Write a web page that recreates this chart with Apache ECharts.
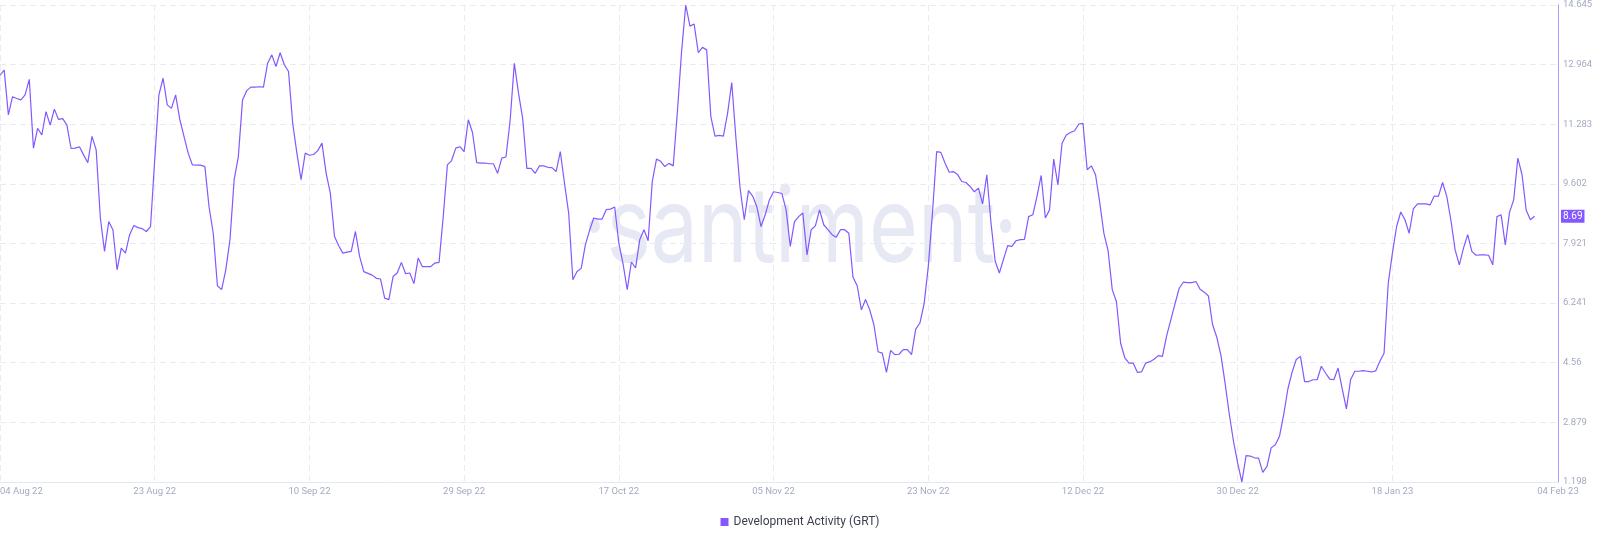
<!DOCTYPE html>
<html>
<head>
<meta charset="utf-8">
<script src="https://cdn.jsdelivr.net/npm/echarts@6/dist/echarts.min.js"></script>
<style>
  html, body { margin: 0; padding: 0; background: #ffffff; }
  #chart { width: 1600px; height: 541px; }
</style>
</head>
<body>
<div id="chart"></div>
<script>
// ---- data (12-hour samples starting 04 Aug 2022) ----
const seriesName = 'Development Activity (GRT)';
const startTime = Date.UTC(2022, 7, 4, 0, 0, 0);
const stepHours = 12;

const devActivity = [
  12.67, 12.81, 11.55, 12.06, 12.01, 11.97, 12.11, 12.55, 10.61, 11.17,
  10.98, 11.64, 11.26, 11.71, 11.42, 11.44, 11.26, 10.60, 10.61, 10.65,
  10.42, 10.20, 10.94, 10.56, 8.64, 7.70, 8.54, 8.31, 7.18, 7.79,
  7.65, 8.17, 8.43, 8.37, 8.34, 8.26, 8.40, 10.28, 12.11, 12.58,
  11.83, 11.73, 12.11, 11.42, 10.94, 10.47, 10.14, 10.13, 10.13, 10.09,
  8.95, 8.21, 6.73, 6.62, 7.18, 8.03, 9.72, 10.37, 11.97, 12.23,
  12.33, 12.33, 12.34, 12.33, 13.00, 13.24, 12.91, 13.30, 12.96, 12.77,
  11.31, 10.47, 9.72, 10.47, 10.41, 10.43, 10.54, 10.75, 9.90, 9.34,
  8.12, 7.86, 7.65, 7.68, 7.70, 8.26, 7.56, 7.13, 7.08, 7.03,
  6.94, 6.92, 6.38, 6.34, 6.99, 7.09, 7.39, 7.07, 7.09, 6.79,
  7.51, 7.27, 7.27, 7.27, 7.37, 7.39, 8.68, 10.14, 10.26, 10.61,
  10.65, 10.51, 11.41, 11.05, 10.20, 10.19, 10.19, 10.17, 10.17, 9.90,
  10.33, 10.36, 11.39, 13.00, 12.16, 11.45, 10.04, 10.04, 9.90, 10.11,
  10.11, 10.07, 10.06, 9.95, 10.51, 9.62, 8.78, 6.90, 7.13, 7.22,
  7.89, 8.29, 8.64, 8.61, 8.61, 8.88, 8.89, 8.95, 7.93, 7.35,
  6.62, 7.40, 7.23, 8.03, 8.31, 8.00, 9.67, 10.30, 10.24, 10.09,
  10.18, 10.11, 11.64, 13.33, 14.645, 14.05, 14.11, 13.30, 13.45, 13.38,
  11.50, 10.95, 10.97, 10.95, 11.59, 12.46, 10.89, 9.48, 8.59, 9.41,
  9.26, 8.96, 8.40, 8.73, 9.15, 9.38, 9.36, 9.33, 8.87, 7.84,
  8.54, 8.68, 8.78, 7.60, 8.31, 8.42, 8.87, 8.45, 8.31, 8.17,
  8.10, 8.31, 8.31, 8.21, 6.97, 6.73, 6.05, 6.34, 6.05, 5.63,
  4.87, 4.83, 4.29, 4.91, 4.79, 4.80, 4.93, 4.93, 4.79, 5.51,
  5.68, 6.22, 7.27, 8.78, 10.51, 10.49, 10.19, 9.93, 9.95, 9.87,
  9.67, 9.64, 9.53, 9.38, 9.48, 9.04, 9.86, 8.50, 7.42, 7.09,
  7.48, 7.86, 7.84, 8.00, 8.03, 8.04, 8.68, 8.73, 9.25, 9.84,
  8.64, 8.87, 10.30, 9.57, 10.75, 10.98, 11.05, 11.10, 11.29, 11.31,
  10.00, 10.11, 9.86, 9.08, 8.21, 7.72, 6.62, 6.28, 5.11, 4.70,
  4.55, 4.55, 4.29, 4.30, 4.55, 4.59, 4.66, 4.76, 4.74, 5.32,
  5.77, 6.22, 6.66, 6.83, 6.82, 6.82, 6.85, 6.63, 6.55, 6.44,
  5.63, 5.28, 4.76, 3.97, 3.10, 2.34, 1.73, 1.198, 1.94, 1.93,
  1.88, 1.87, 1.47, 1.64, 2.16, 2.25, 2.49, 3.10, 3.82, 4.29,
  4.65, 4.74, 4.03, 4.03, 4.08, 4.08, 4.46, 4.27, 4.10, 4.08,
  4.41, 3.82, 3.26, 4.08, 4.32, 4.32, 4.34, 4.32, 4.30, 4.33,
  4.60, 4.83, 6.80, 7.65, 8.40, 8.81, 8.59, 8.21, 8.90, 9.04,
  9.04, 9.04, 9.01, 9.26, 9.25, 9.64, 9.25, 8.57, 7.74, 7.32,
  7.79, 8.17, 7.70, 7.59, 7.60, 7.60, 7.59, 7.32, 8.68, 8.73,
  7.88, 8.80, 9.15, 10.33, 9.86, 8.86, 8.59, 8.69
];

const xTickLabels = ['04 Aug 22', '23 Aug 22', '10 Sep 22', '29 Sep 22', '17 Oct 22',
  '05 Nov 22', '23 Nov 22', '12 Dec 22', '30 Dec 22', '18 Jan 23', '04 Feb 23'];
const yTickLabels = [1.198, 2.879, 4.56, 6.241, 7.921, 9.602, 11.283, 12.964, 14.645];

// ---- derived structures ----
const HOUR = 3600 * 1000;
const stepMs = stepHours * HOUR;
const seriesData = devActivity.map((v, i) => [startTime + i * stepMs, v]);
const tickStepMs = 37 * stepMs;          // spacing between dated grid lines
const axisEnd = startTime + 372.6 * stepMs;
const xTickValues = xTickLabels.slice(0, -1).map((_, k) => startTime + k * tickStepMs);
xTickValues.push(axisEnd);
const lastValue = devActivity[devActivity.length - 1];

const purple = '#8358ff';
const labelColor = '#a3abc2';
const gridColor = '#e8eaf4';

const chart = echarts.init(document.getElementById('chart'), null, { renderer: 'canvas' });
chart.setOption({
  animation: false,
  backgroundColor: '#ffffff',
  textStyle: { fontFamily: 'Roboto, sans-serif' },
  grid: { left: 0, right: 42, top: 5, bottom: 59, containLabel: false, outerBoundsMode: 'none' },
  graphic: [{
    type: 'text',
    x: 800, y: 230,
    z: -10,
    scaleY: 1.25,
    style: {
      text: '\u00B7santiment\u00B7',
      font: '400 84px Inter, sans-serif',
      fill: '#e6e9f4',
      textAlign: 'center',
      textVerticalAlign: 'middle'
    }
  }],
  xAxis: {
    type: 'value',
    min: startTime,
    max: axisEnd,
    axisLine: { show: true, lineStyle: { color: '#e6e8f1', width: 1 } },
    axisTick: { show: false, customValues: xTickValues },
    splitLine: { show: true, lineStyle: { color: gridColor, type: [6, 4], width: 1 } },
    axisLabel: {
      customValues: xTickValues,
      color: labelColor,
      fontSize: 9.5,
      margin: 5,
      alignMinLabel: 'left',
      formatter: function (value) {
        let k = Math.round((value - startTime) / tickStepMs);
        if (value >= axisEnd - stepMs) k = xTickLabels.length - 1;
        return xTickLabels[Math.max(0, Math.min(k, xTickLabels.length - 1))];
      }
    }
  },
  yAxis: {
    type: 'value',
    position: 'right',
    min: yTickLabels[0],
    max: yTickLabels[yTickLabels.length - 1],
    axisLine: { show: true, lineStyle: { color: '#a99cfb', width: 1 } },
    axisTick: { show: false, customValues: yTickLabels },
    splitLine: { show: true, lineStyle: { color: gridColor, type: [6, 4], width: 1 } },
    axisLabel: {
      customValues: yTickLabels,
      color: labelColor,
      fontSize: 9.5,
      margin: 5,
      formatter: v => String(+Number(v).toFixed(3))
    }
  },
  legend: {
    bottom: 8,
    left: 'center',
    icon: 'rect',
    itemWidth: 8,
    itemHeight: 8,
    itemGap: 10,
    textStyle: { color: '#3b3f4f', fontSize: 12 },
    data: [seriesName]
  },
  series: [{
    name: seriesName,
    type: 'line',
    data: seriesData,
    showSymbol: false,
    symbol: 'none',
    color: purple,
    lineStyle: { color: purple, width: 1.2 },
    z: 3,
    markLine: {
      silent: true,
      symbol: 'none',
      animation: false,
      lineStyle: { color: 'rgba(0,0,0,0)', width: 0 },
      label: {
        show: true,
        position: 'end',
        distance: 3,
        formatter: p => String(p.value),
        color: '#ffffff',
        backgroundColor: purple,
        opacity: 1,
        fontSize: 10,
        padding: [2, 2, 1, 2]
      },
      data: [{ yAxis: lastValue }]
    }
  }]
});
</script>
</body>
</html>
